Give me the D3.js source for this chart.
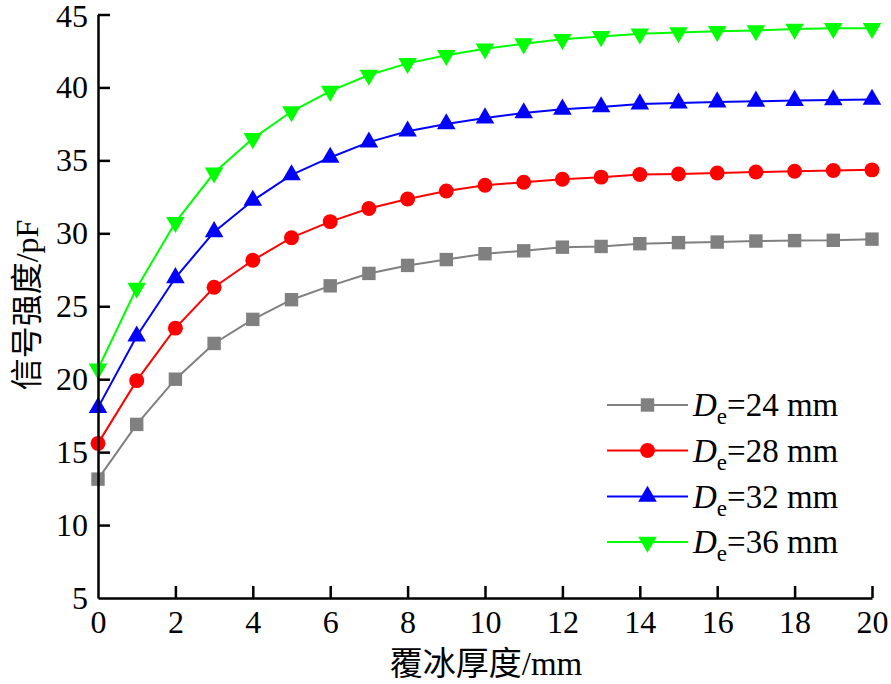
<!DOCTYPE html>
<html><head><meta charset="utf-8">
<script src="https://cdn.jsdelivr.net/npm/d3@7"></script>
<style>body{margin:0;background:#fff}</style>
</head><body>
<svg id="c" width="891" height="684"></svg>
<script>
const thickness = [0,1,2,3,4,5,6,7,8,9,10,11,12,13,14,15,16,17,18,19,20];
const de24 = [13.15,16.9,20.0,22.45,24.1,25.45,26.4,27.25,27.8,28.2,28.6,28.8,29.05,29.1,29.29,29.36,29.4,29.47,29.5,29.52,29.6];
const de28 = [15.6,19.9,23.5,26.3,28.15,29.7,30.8,31.7,32.35,32.9,33.3,33.5,33.7,33.85,34.03,34.07,34.14,34.2,34.25,34.3,34.35];
const de32 = [18.05,22.95,26.95,30.1,32.25,34.0,35.2,36.25,37.0,37.5,37.9,38.25,38.5,38.66,38.86,38.93,39.0,39.05,39.1,39.14,39.18];
const de36 = [20.7,26.25,30.75,34.15,36.5,38.35,39.75,40.85,41.65,42.2,42.65,43.0,43.3,43.5,43.68,43.76,43.85,43.9,44.0,44.05,44.05];
const seriesNames = ["24","28","32","36"];
const seriesColors = ["#808080","#ff0000","#0000ff","#00ff00"];
const seriesSymbols = ["square","circle","triangleUp","triangleDown"];
const xTicks = [0,2,4,6,8,10,12,14,16,18,20];
const yTicks = [5,10,15,20,25,30,35,40,45];
const xTitle = "覆冰厚度/mm";
const yTitle = "信号强度/pF";

const allSeries = [de24,de28,de32,de36];
const svg = d3.select("#c");
const x = d3.scaleLinear().domain([0,20]).range([98,872]);
const y = d3.scaleLinear().domain([5,45]).range([598,14.5]);
const serif = "Liberation Serif, Times New Roman, serif";

function symbolPath(kind){
  if(kind==="square") return d3.symbol(d3.symbolSquare,180)();
  if(kind==="circle") return d3.symbol(d3.symbolCircle,175)();
  return d3.symbol(d3.symbolTriangle,150)();
}
function symbolRot(kind){ return kind==="triangleDown" ? " rotate(180)" : ""; }

// series
allSeries.forEach((vals,i)=>{
  const data = thickness.map((t,j)=>({t, v: vals[j]}));
  svg.append("path").datum(data)
    .attr("fill","none").attr("stroke",seriesColors[i]).attr("stroke-width",2)
    .attr("d", d3.line().x(d=>x(d.t)).y(d=>y(d.v)));
  svg.append("g").selectAll("path").data(data).join("path")
    .attr("d", symbolPath(seriesSymbols[i]))
    .attr("transform", d=>`translate(${x(d.t)},${y(d.v)})${symbolRot(seriesSymbols[i])}`)
    .attr("fill", seriesColors[i]);
});

// axes
const xa = svg.append("g").attr("transform","translate(0,598)")
  .call(d3.axisBottom(x).tickValues(xTicks).tickSize(-12).tickPadding(12).tickSizeOuter(0));
const ya = svg.append("g").attr("transform","translate(98,0)")
  .call(d3.axisLeft(y).tickValues(yTicks).tickSize(-12).tickPadding(10).tickSizeOuter(0));
[xa,ya].forEach(a=>{
  a.attr("font-family",null).attr("font-size",null);
  a.select(".domain").attr("stroke","#000").attr("stroke-width",2.5);
  a.selectAll(".tick line").attr("stroke","#000").attr("stroke-width",2.5);
  a.selectAll(".tick text").style("font-family",serif).style("font-size","32px").attr("fill","#000");
});
ya.select(".tick:first-of-type line").attr("display","none");
xa.select(".tick:first-of-type line").attr("display","none");
xa.selectAll(".tick text").attr("dy","0.71em");
ya.selectAll(".tick").filter(d=>d===45).select("text").attr("dy","0.38em");

// axis titles
function titleText(g, s){
  const cjk = s.replace(/\/.*$/,"");
  const rest = s.slice(cjk.length);
  g.append("tspan").style("font-family","Noto Sans CJK SC, sans-serif").text(cjk);
  g.append("tspan").style("font-family",serif).text(rest);
}
const xt = svg.append("text").attr("x",486).attr("y",675).attr("text-anchor","middle").style("font-size","33px");
titleText(xt, xTitle);
const yt = svg.append("text").attr("transform","translate(38,305) rotate(-90)").attr("text-anchor","middle").style("font-size","32px");
titleText(yt, yTitle);

// legend
const legY = [405,450.5,496.5,542];
seriesNames.forEach((n,i)=>{
  const g = svg.append("g").attr("transform",`translate(0,${legY[i]})`);
  g.append("line").attr("x1",607).attr("x2",688).attr("y1",0).attr("y2",0)
    .attr("stroke",seriesColors[i]).attr("stroke-width",2);
  g.append("path").attr("d",symbolPath(seriesSymbols[i]))
    .attr("transform",`translate(647.5,0)${symbolRot(seriesSymbols[i])}`).attr("fill",seriesColors[i]);
  const t = g.append("text").attr("x",693).attr("y",11).style("font-family",serif).style("font-size","33px");
  t.append("tspan").style("font-style","italic").text("D");
  t.append("tspan").style("font-size","23px").attr("dy",8).text("e");
  t.append("tspan").attr("dy",-8).text(`=${n} mm`);
});
</script>
</body></html>
